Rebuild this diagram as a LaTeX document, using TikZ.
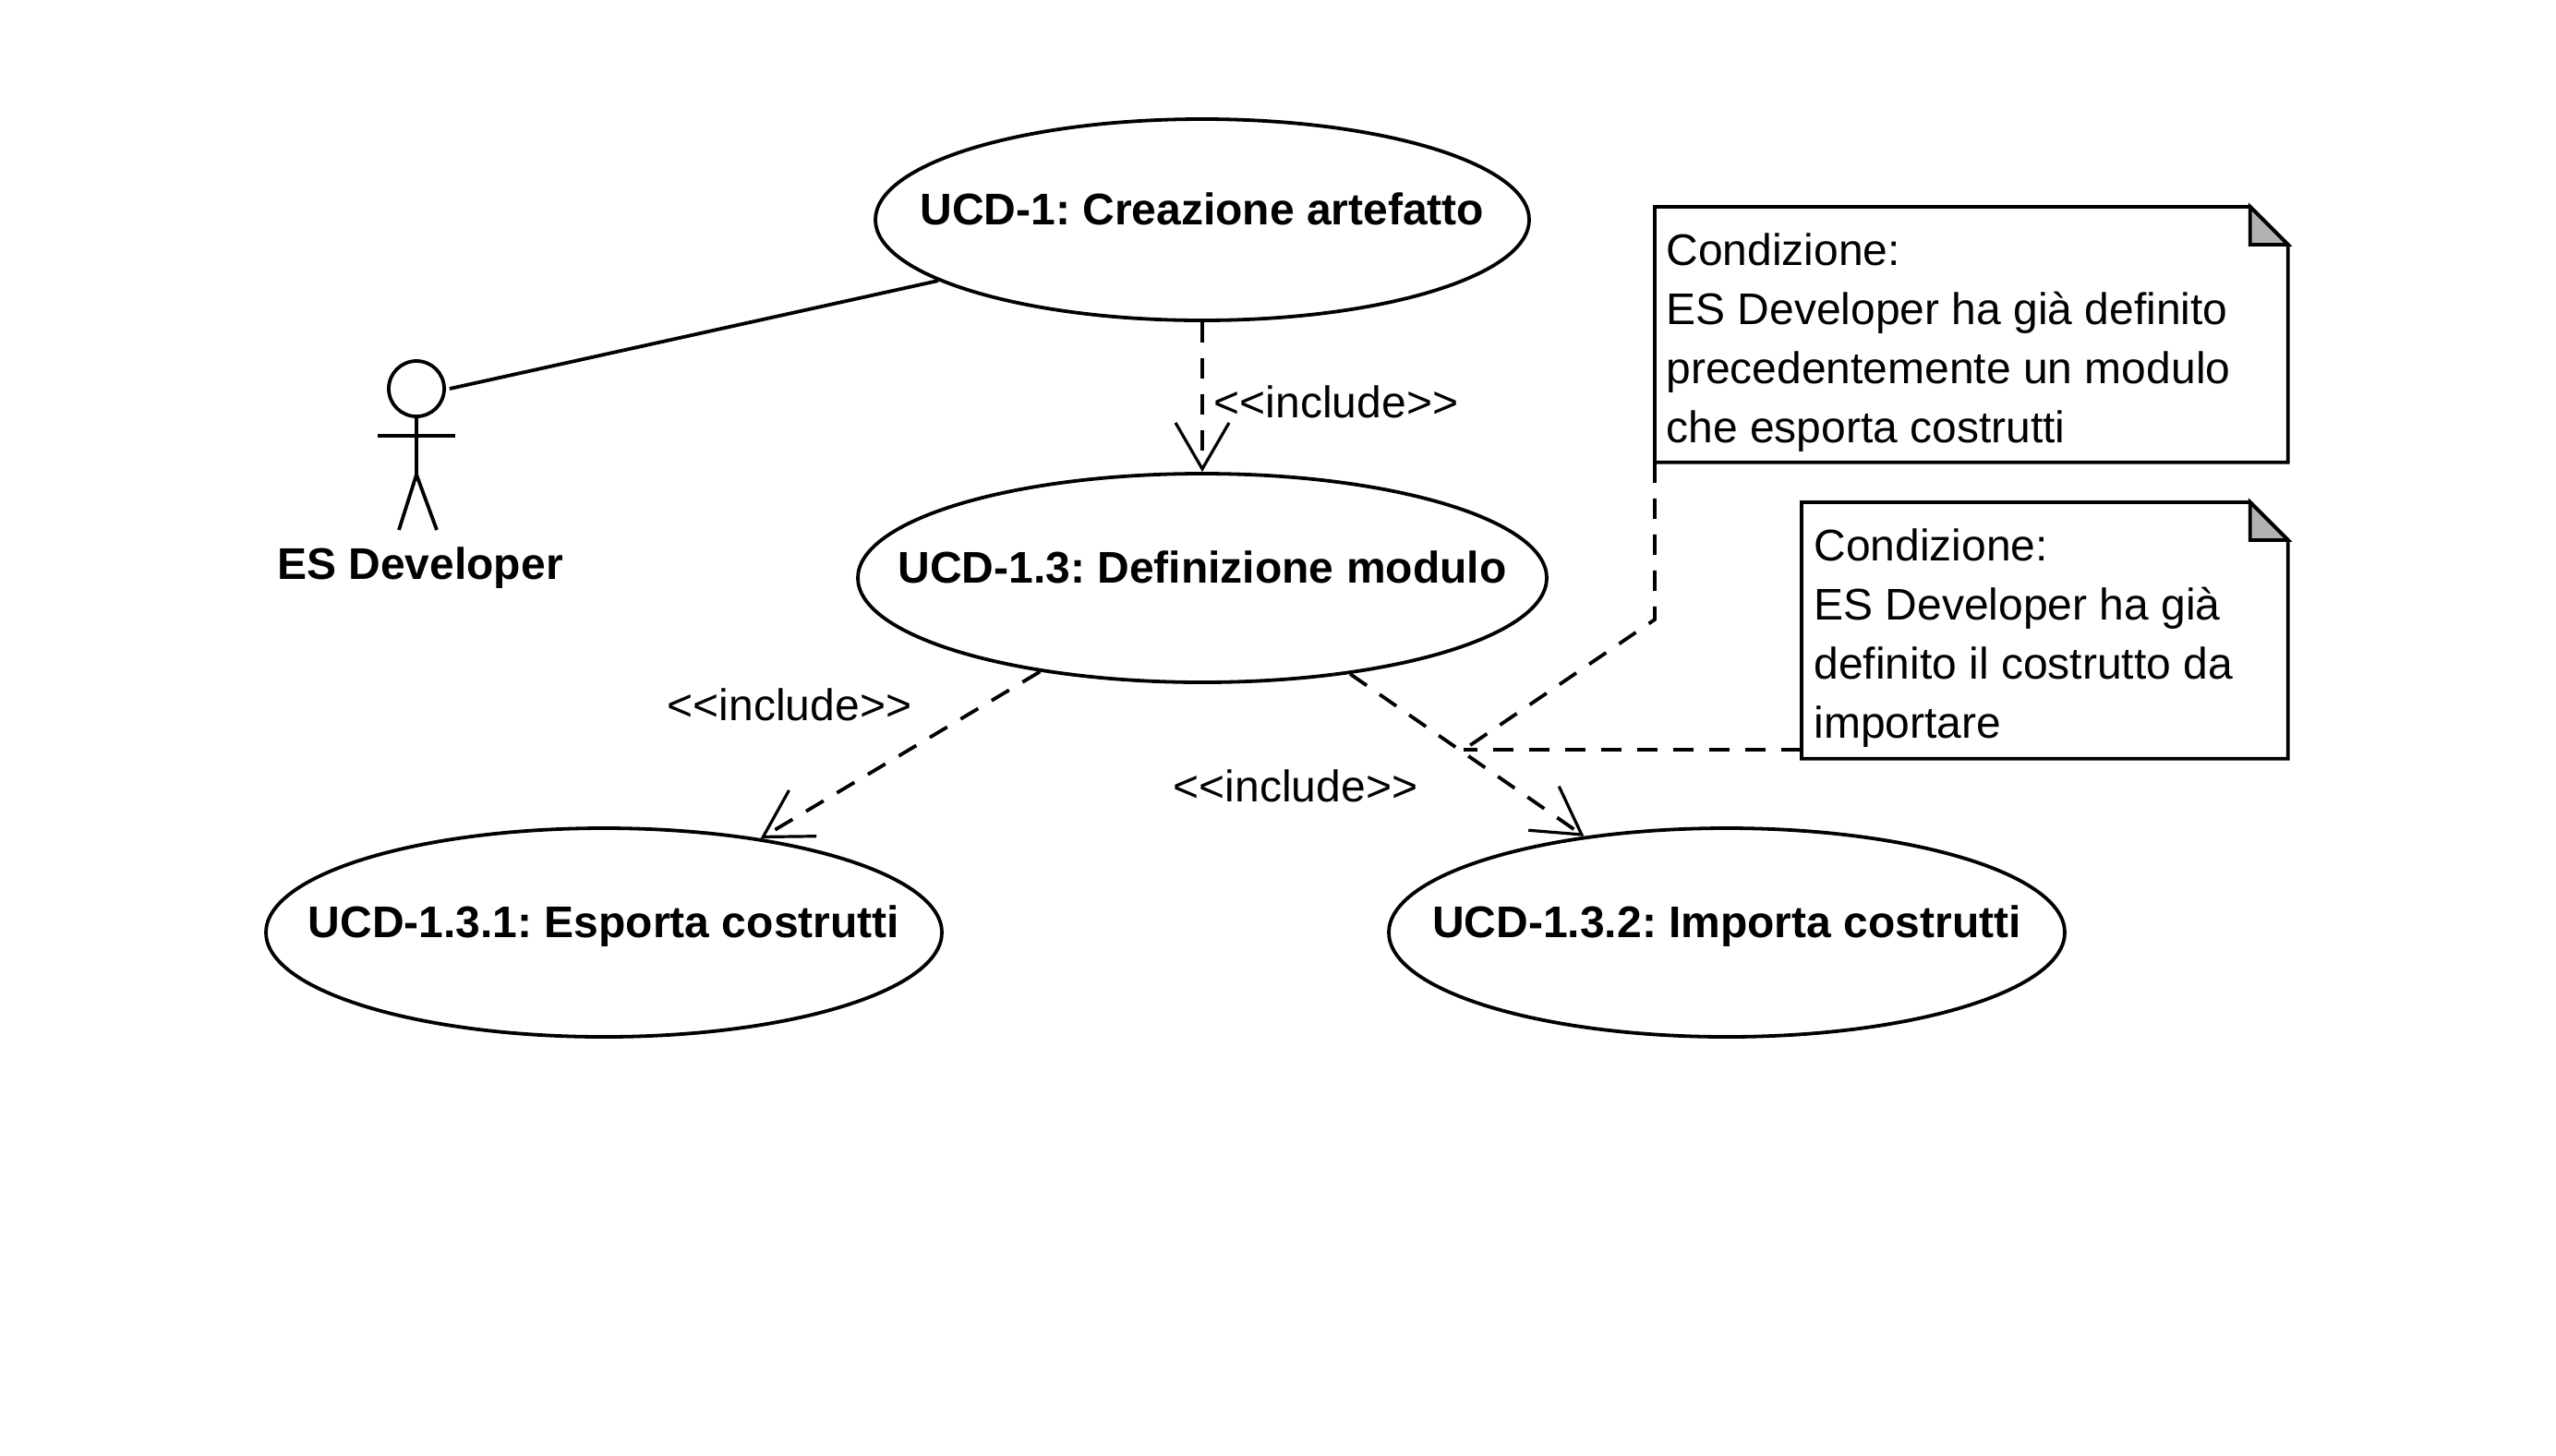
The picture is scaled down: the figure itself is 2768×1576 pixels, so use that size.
\documentclass[tikz,border=0pt]{standalone}
\usepackage{fontspec}
\setmainfont{Liberation Sans}
\usetikzlibrary{shapes.geometric,arrows.meta,calc}
\frenchspacing
\tikzset{
  uc/.style={ellipse,draw=black,line width=1.9pt,inner sep=0pt,minimum width=#1,font=\fontsize{24}{28}\selectfont\bfseries,minimum height=113pt},
  plain/.style={draw=black,line width=1.9pt},
  dep/.style={draw=black,line width=1.9pt,dash pattern=on 11pt off 8.5pt},
  inc/.style={dep,-{Straight Barb[length=25pt,width=29pt,line width=1.6pt]}},
  stereo/.style={font=\fontsize{24}{28}\selectfont,inner sep=0pt},
  notebox/.style={inner sep=0pt,anchor=north west,minimum height=#1},
  notetext/.style={font=\fontsize{24}{32}\selectfont,align=left,anchor=north west,inner sep=0pt},
}
\newcommand{\ucl}[1]{\makebox[0pt]{\smash{\raisebox{-2.5pt}{#1}}}}
\newcommand{\incl}{<{}<include>{}>}
\begin{document}
\begin{tikzpicture}[x=0.5pt,y=-0.5pt]
\useasboundingbox (0,0) rectangle (2768,1576);
\fill[white] (0,0) rectangle (2768,1576);

\node[uc=354pt,minimum height=109pt] (e1) at (1302,238) {\ucl{UCD-1: Creazione artefatto}};
\node[uc=373pt] (e13) at (1302,626) {\ucl{UCD-1.3: Definizione modulo}};
\node[uc=366pt] (e131) at (654,1010) {\ucl{UCD-1.3.1: Esporta costrutti}};
\node[uc=366pt] (e132) at (1870,1010) {\ucl{UCD-1.3.2: Importa costrutti}};

% actor
\node[circle,draw=black,line width=1.9pt,minimum size=30pt,inner sep=0pt] (head) at (451,421) {};
\coordinate (arms) at (451,472);
\coordinate (hip) at (451,514);
\coordinate (lf) at (432,574);
\coordinate (rf) at (473,574);
\draw[plain] (head.south) -- (hip);
\draw[plain] ($(arms)+(-42,0)$) -- ($(arms)+(42,0)$);
\draw[plain] (lf) -- (hip) -- (rf);
\node[font=\fontsize{24}{28}\selectfont\bfseries,inner sep=0pt] (actor) at (455,615) {ES Developer};
\draw[plain] ($(head.east)+(4,0)$) -- (e1.193);

% includes
\draw[inc] (e1.south) -- (e13.north);
\draw[inc] (e13.210) -- (e131.31);
\draw[inc] (e13.327) -- (e132.146);
\node[stereo] (l1) at (1447,435) {\incl};
\node[stereo] (l2) at (855,763) {\incl};
\node[stereo] (l3) at (1403,851) {\incl};

% notes
\node[notebox=138pt,minimum width=342.5pt] (n1) at (1792,224) {};
\node[notebox=138.5pt,minimum width=263pt] (n2) at (1951,544) {};
\foreach \n in {n1,n2}{
  \draw[plain,line join=miter] (\n.north west) -- ($(\n.north east)+(-41,0)$) -- ($(\n.north east)+(0,41)$) -- (\n.south east) -- (\n.south west) -- cycle;
  \draw[plain,fill=black!30] ($(\n.north east)+(-41,0)$) -- ($(\n.north east)+(-41,41)$) -- ($(\n.north east)+(0,41)$) -- cycle;
}
\node[notetext] (t1) at (1804,252) {Condizione:\\ES Developer ha già definito\\precedentemente un modulo\\che esporta costrutti};
\node[notetext] (t2) at (1964,572) {Condizione:\\ES Developer ha già\\definito il costrutto da\\importare};

\coordinate (bend) at (1792,671);
\coordinate (join) at (1585,812);
\draw[dep] (n1.south west) -- (bend) -- (join);
\draw[dep] (n2.west |- join) -- (join);
\end{tikzpicture}
\end{document}
